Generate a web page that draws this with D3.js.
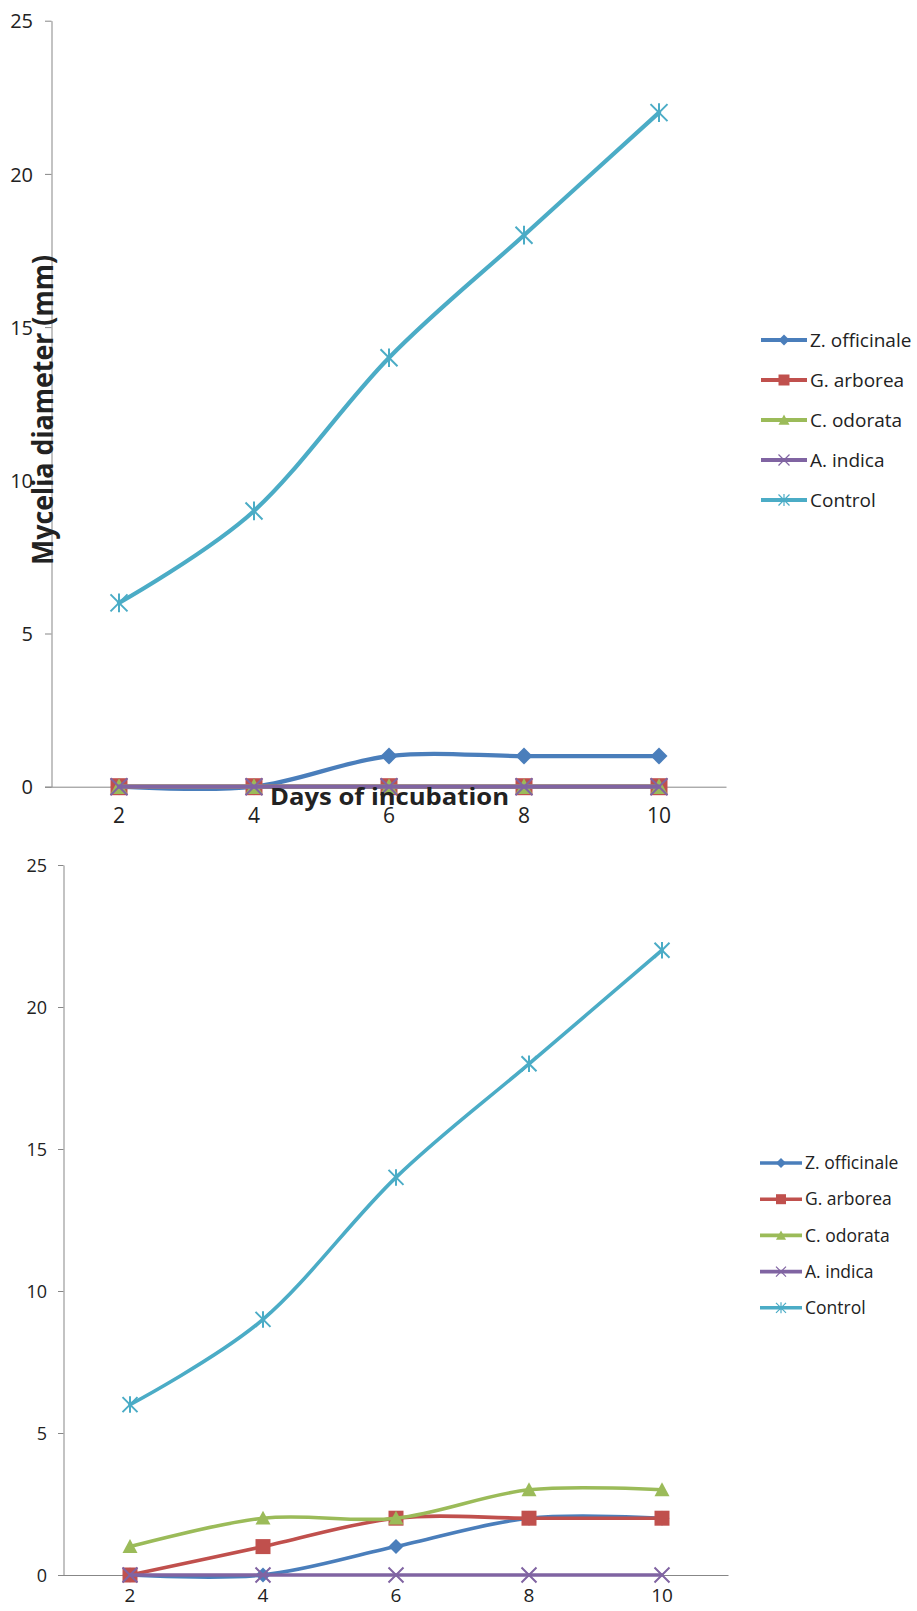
<!DOCTYPE html>
<html>
<head>
<meta charset="utf-8">
<script src="https://cdn.jsdelivr.net/npm/d3@7/dist/d3.min.js"></script>
<style>
  html, body { margin: 0; padding: 0; background: #fff; }
  svg { display: block; }
  text { font-family: "Open Sans", "DejaVu Sans", sans-serif; fill: #222; }
</style>
</head>
<body>
<svg id="chart" width="917" height="1611"></svg>
<script>
// ---- data ----
const days = [2, 4, 6, 8, 10];
const yTicks = [0, 5, 10, 15, 20, 25];
const seriesNames = ["Z. officinale", "G. arborea", "C. odorata", "A. indica", "Control"];
const seriesColors = ["#4A7EBB", "#C0504D", "#9BBB59", "#8064A2", "#4BACC6"];
const seriesMarkers = ["diamond", "square", "triangle", "cross", "star"];

// upper panel
const topZofficinale = [0, 0, 1, 1, 1];
const topGarborea    = [0, 0, 0, 0, 0];
const topCodorata    = [0, 0, 0, 0, 0];
const topAindica     = [0, 0, 0, 0, 0];
const topControl     = [6, 9, 14, 18, 22];

// lower panel
const botZofficinale = [0, 0, 1, 2, 2];
const botGarborea    = [0, 1, 2, 2, 2];
const botCodorata    = [1, 2, 2, 3, 3];
const botAindica     = [0, 0, 0, 0, 0];
const botControl     = [6, 9, 14, 18, 22];

const svg = d3.select("#chart");
const axisColor = "#878787";

function markerPath(type, s) {
  switch (type) {
    case "diamond":  return `M0,${-s}L${s},0L0,${s}L${-s},0Z`;
    case "square":   return `M${-s},${-s}H${s}V${s}H${-s}Z`;
    case "triangle": return `M0,${-s}L${s},${s * 0.85}L${-s},${s * 0.85}Z`;
    case "cross":    return `M${-s},${-s}L${s},${s}M${-s},${s}L${s},${-s}`;
    case "star":     return `M${-s},${-s}L${s},${s}M${-s},${s}L${s},${-s}M0,${-s * 1.1}V${s * 1.1}`;
  }
}
function isStroked(type) { return type === "cross" || type === "star"; }

function drawMarker(g, type, color, x, y, s, sw) {
  const p = g.append("path")
    .attr("transform", `translate(${x},${y})`)
    .attr("d", markerPath(type, s));
  if (isStroked(type)) {
    p.attr("fill", "none").attr("stroke", color).attr("stroke-width", sw);
  } else {
    p.attr("fill", color).attr("stroke", "none");
  }
}

function drawPanel(opt) {
  const g = svg.append("g");
  const x = d3.scaleBand().domain(days).range([opt.left, opt.right]);
  const y = d3.scaleLinear().domain([0, 25]).range([opt.bottom, opt.top]);
  const cx = d => x(d) + x.bandwidth() / 2;

  // value axis
  const yAxis = g.append("g")
    .attr("transform", `translate(${opt.left},0)`)
    .call(d3.axisLeft(y).tickValues(yTicks).tickSize(opt.tick).tickPadding(opt.yPad).tickSizeOuter(0));
  yAxis.select(".domain").attr("stroke", axisColor).attr("stroke-width", 1);
  yAxis.selectAll(".tick line").attr("stroke", axisColor);
  yAxis.selectAll(".tick text")
    .attr("font-family", "'Open Sans', sans-serif")
    .attr("font-size", opt.yFont).attr("fill", "#222").attr("dy", "0.36em");

  // category axis (no tick marks)
  const xAxis = g.append("g")
    .attr("transform", `translate(0,${opt.bottom})`)
    .call(d3.axisBottom(x).tickSize(0).tickPadding(opt.xPad).tickSizeOuter(0));
  xAxis.select(".domain").attr("stroke", axisColor).attr("stroke-width", 1)
    .attr("d", `M${opt.left - opt.tick},0.5H${opt.right}`);
  xAxis.selectAll(".tick text")
    .attr("font-family", "'Open Sans', sans-serif")
    .attr("font-size", opt.xFont).attr("fill", "#222");

  // series: line then markers, one series at a time
  const line = d3.line()
    .x((d, i) => cx(days[i]))
    .y(d => y(d))
    .curve(d3.curveCatmullRom.alpha(0));

  opt.series.forEach((vals, si) => {
    const sg = g.append("g");
    sg.append("path")
      .attr("d", line(vals))
      .attr("fill", "none")
      .attr("stroke", seriesColors[si])
      .attr("stroke-width", opt.lineW)
      .attr("stroke-linejoin", "round")
      .attr("stroke-linecap", "round");
    vals.forEach((v, i) => {
      drawMarker(sg, seriesMarkers[si], seriesColors[si], cx(days[i]), y(v), opt.mk, opt.mkStroke);
    });
  });

  // legend
  const lg = g.append("g");
  seriesNames.forEach((name, i) => {
    const ly = opt.legY + i * opt.legStep;
    lg.append("line")
      .attr("x1", opt.legX1).attr("x2", opt.legX2)
      .attr("y1", ly).attr("y2", ly)
      .attr("stroke", seriesColors[i]).attr("stroke-width", opt.lineW);
    const mx = (opt.legX1 + opt.legX2) / 2;
    drawMarker(lg, seriesMarkers[i], seriesColors[i], mx, ly, opt.legMk, 1.2);
    lg.append("text")
      .attr("x", opt.legX2 + 3).attr("y", ly)
      .attr("dy", "0.35em")
      .attr("font-size", opt.legFont)
      .text(name);
  });
  return g;
}

// upper panel
drawPanel({
  left: 51.5, right: 726.5, top: 20.7, bottom: 786.7,
  tick: 6.5, yPad: 12, xPad: 21, yFont: 20, xFont: 21,
  lineW: 4.2, mk: 8.5, mkStroke: 2,
  series: [topZofficinale, topGarborea, topCodorata, topAindica, topControl],
  legX1: 761, legX2: 807, legY: 340, legStep: 40, legMk: 5.5, legFont: 19
});

// lower panel
drawPanel({
  left: 63.5, right: 728.5, top: 865, bottom: 1575,
  tick: 5.5, yPad: 11, xPad: 14, yFont: 18, xFont: 19,
  lineW: 3.6, mk: 7.5, mkStroke: 2,
  series: [botZofficinale, botGarborea, botCodorata, botAindica, botControl],
  legX1: 760, legX2: 802, legY: 1163, legStep: 36.2, legMk: 5, legFont: 17.5
});

// axis titles of the upper panel
svg.append("text")
  .attr("transform", "translate(53,410) rotate(-90)")
  .attr("text-anchor", "middle")
  .attr("font-weight", "bold")
  .attr("font-size", 28)
  .attr("fill", "#000")
  .attr("textLength", 310)
  .attr("lengthAdjust", "spacingAndGlyphs")
  .text("Mycelia diameter (mm)");

svg.append("text")
  .attr("x", 389.5).attr("y", 805)
  .attr("text-anchor", "middle")
  .attr("font-weight", "bold")
  .attr("font-size", 23)
  .attr("fill", "#000")
  .attr("textLength", 239)
  .attr("lengthAdjust", "spacingAndGlyphs")
  .text("Days of incubation");
</script>
</body>
</html>
